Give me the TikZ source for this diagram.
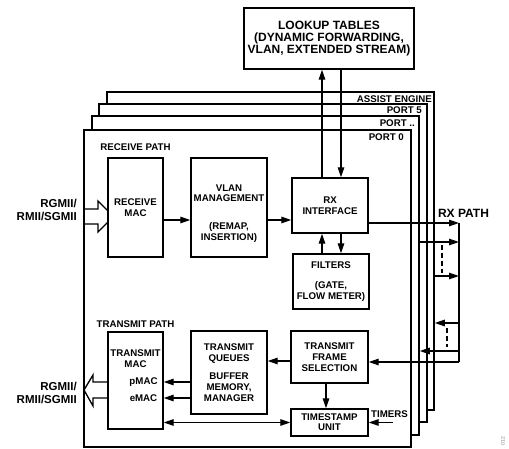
\documentclass[tikz,border=0pt]{standalone}
\usepackage{fontspec}
\setmainfont{Liberation Sans}
\usetikzlibrary{arrows.meta}

\newcommand{\lblfont}{\fontsize{9.7}{10.8}\selectfont\bfseries}
\newcommand{\bigfont}{\fontsize{12}{12.3}\selectfont\bfseries}

\begin{document}
\begin{tikzpicture}[x=1pt,y=-1pt,
    >={Triangle[length=10pt,width=6.5pt]},
    blk/.style={draw,line width=1.4pt,fill=white,align=center,inner sep=0pt,font=\lblfont},
    frm/.style={draw,line width=1.5pt,fill=white,inner sep=0pt},
    txt/.style={align=center,inner sep=0pt,font=\lblfont},
    wire/.style={line width=1.3pt}]
\useasboundingbox (0,0) rectangle (509,449);

% port frames, back to front
\node[frm,minimum width=327pt,minimum height=318pt] (assist) at (270.5,251) {};
\node[txt,anchor=east] (assistlbl) at (432,99) {ASSIST ENGINE};
\node[frm,minimum width=328pt,minimum height=318pt] (port5) at (263,263) {};
\node[txt,anchor=east] (port5lbl) at (422,110) {PORT 5};
\node[frm,minimum width=327pt,minimum height=319pt] (portn) at (255.5,275.5) {};
\node[txt,anchor=east] (portnlbl) at (415,123) {PORT ..};
\node[frm,minimum width=327pt,minimum height=317pt] (port0) at (247.5,288.5) {};
\node[txt,anchor=east] (port0lbl) at (404,137) {PORT 0};

\node[blk,font=\bigfont,minimum width=170pt,minimum height=61pt] (lookup) at (329,38.5)
    {LOOKUP TABLES\\(DYNAMIC FORWARDING,\\VLAN, EXTENDED STREAM)};

% receive path
\node[txt] (rxlbl) at (135.5,147) {RECEIVE PATH};
\node[blk,minimum width=55pt,minimum height=99pt] (rxmac) at (135.5,207.5) {RECEIVE\\MAC};
\node[blk,minimum width=76pt,minimum height=99pt] (vlan) at (229,207.5) {};
\node[txt] (vlantxt) at (229,213.5) {VLAN\\MANAGEMENT\\[17pt](REMAP,\\INSERTION)};
\node[blk,minimum width=76pt,minimum height=55pt] (rxif) at (330,205.5) {RX\\INTERFACE};
\node[blk,minimum width=76pt,minimum height=55pt] (filters) at (331,281.5) {FILTERS\\[9pt](GATE,\\FLOW METER)};

% transmit path
\node[txt] (txlbl) at (135.5,324) {TRANSMIT PATH};
\node[blk,minimum width=55pt,minimum height=97pt] (txmac) at (135.5,380.5) {};
\node[txt] (txmactxt) at (135.5,359) {TRANSMIT\\MAC};
\node[txt] (pmac) at (143.5,382) {pMAC};
\node[txt] (emac) at (143.5,398) {eMAC};
\node[blk,minimum width=76pt,minimum height=83pt] (queues) at (229,372.5) {TRANSMIT\\QUEUES\\[8pt]BUFFER\\MEMORY,\\MANAGER};
\node[blk,minimum width=77pt,minimum height=52pt] (tfs) at (329.5,357) {TRANSMIT\\FRAME\\SELECTION};
\node[blk,minimum width=77pt,minimum height=27pt,font=\fontsize{9.7}{9.8}\selectfont\bfseries] (ts) at (329.5,422.5) {TIMESTAMP\\UNIT};
\node[txt] (timers) at (389.5,414) {TIMERS};
\coordinate (timersin) at (393,422.5);

% interface labels and wide arrows
\node[txt,font=\fontsize{11.5}{13}\selectfont\bfseries,align=right,anchor=east] (rgmiiin) at (77,209.5) {RGMII/\\RMII/SGMII};
\node[txt,font=\fontsize{11.5}{13}\selectfont\bfseries,align=right,anchor=east] (rgmiiout) at (77,392.5) {RGMII/\\RMII/SGMII};
\draw[wire] (84,209) -- (98,209) -- (98,201) -- (108,211);
\draw[wire] (84,224) -- (98,224) -- (98,232) -- (108,222);
\draw[wire] (108,382) -- (93,382) -- (93,375) -- (84,390) -- (93,406) -- (93,398) -- (108,398);

% receive connectors
\path[wire,->] ([yshift=-12.5pt]rxmac.east) edge ([yshift=-12.5pt]vlan.west);
\path[wire,->] ([yshift=-12.5pt]vlan.east) edge ([yshift=-14.5pt]rxif.west);
\coordinate (upx) at (322,0);
\coordinate (dnx) at (341,0);
\path[wire,->] (rxif.north -| upx) edge (lookup.south -| upx);
\path[wire,->] (lookup.south -| dnx) edge (rxif.north -| dnx);
\path[wire,->] (filters.north -| upx) edge (rxif.south -| upx);
\path[wire,->] (rxif.south -| dnx) edge (filters.north -| dnx);

% rx path bus
\node[txt,font=\bigfont] (rxpath) at (463.5,213) {RX PATH};
\coordinate (bus1) at (459,223);
\coordinate (bus2) at (459,242);
\coordinate (bus3) at (459,276);
\coordinate (bus4) at (459,323);
\coordinate (bus5) at (459,351);
\coordinate (bus6) at (459,362);
\draw[wire] (bus1) -- (bus6);
\path[wire,->] (rxif.east |- bus1) edge (bus1);
\path[wire,->] (portn.east |- bus2) edge (bus2);
\path[wire,->] (assist.east |- bus3) edge (bus3);
\path[wire,->] (bus4) edge (assist.east |- bus4);
\path[wire,->] (bus5) edge (portn.east |- bus5);
\path[wire,->] (bus6) edge (tfs.east |- bus6);
\draw[wire,dash pattern=on 5pt off 3pt] (442,245) -- (442,273);
\draw[wire,dash pattern=on 5pt off 3pt] (447,328) -- (447,347);

% transmit connectors
\path[wire,->] ([yshift=-4pt]tfs.west) edge ([yshift=11.5pt]queues.east);
\path[wire,->] ([xshift=-3.5pt]tfs.south) edge ([xshift=-3.5pt]ts.north);
\path[wire,->] (queues.west |- pmac) edge (txmac.east |- pmac);
\path[wire,->] (queues.west |- emac) edge (txmac.east |- emac);
\path[wire,<->] (txmac.east |- ts.west) edge (ts.west);
\path[wire,->] (timersin) edge (ts.east);

\node[rotate=90,font=\fontsize{5}{5}\selectfont,text=gray] (fignum) at (503,441) {012};
\end{tikzpicture}
\end{document}
